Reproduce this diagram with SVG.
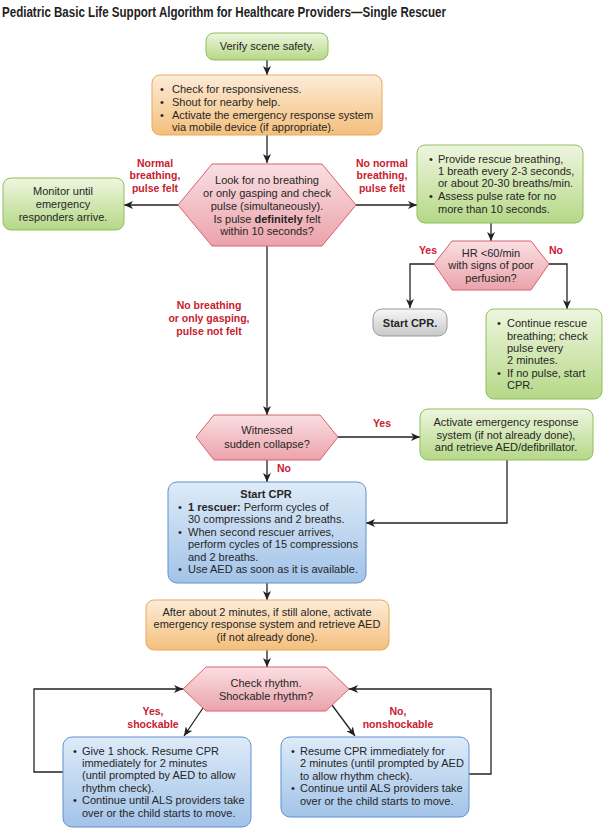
<svg xmlns="http://www.w3.org/2000/svg" width="604" height="830" viewBox="0 0 604 830">
<defs>
<linearGradient id="gGreen" x1="0" y1="0" x2="0" y2="1"><stop offset="0" stop-color="#eef6df"/><stop offset="1" stop-color="#b5d887"/></linearGradient>
<linearGradient id="gOrange" x1="0" y1="0" x2="0" y2="1"><stop offset="0" stop-color="#fdecd8"/><stop offset="1" stop-color="#f4bf7c"/></linearGradient>
<linearGradient id="gPink" x1="0" y1="0" x2="0" y2="1"><stop offset="0" stop-color="#f9dfe2"/><stop offset="1" stop-color="#eba3ab"/></linearGradient>
<linearGradient id="gBlue" x1="0" y1="0" x2="0" y2="1"><stop offset="0" stop-color="#deebf8"/><stop offset="1" stop-color="#a2c3e8"/></linearGradient>
<linearGradient id="gGrey" x1="0" y1="0" x2="0" y2="1"><stop offset="0" stop-color="#f6f6f6"/><stop offset="1" stop-color="#c8c8c8"/></linearGradient>
<marker id="arr" markerUnits="userSpaceOnUse" markerWidth="10" markerHeight="8" refX="9" refY="4" orient="auto"><path d="M0,0 L9,4 L0,8 L2.5,4 Z" fill="#222"/></marker>
</defs>
<style>
text{font-family:"Liberation Sans",Arial,sans-serif;font-size:11px;fill:#262626}
.t{font-size:14px;font-weight:bold;fill:#222}
.c{text-anchor:middle}
.b{font-weight:bold}
.r{font-weight:bold;fill:#c8202f;text-anchor:middle;font-size:10.5px}
.green{fill:url(#gGreen);stroke:#8fbf5c;stroke-width:1}
.orange{fill:url(#gOrange);stroke:#eaa95a;stroke-width:1}
.pink{fill:url(#gPink);stroke:#d8606c;stroke-width:1}
.blue{fill:url(#gBlue);stroke:#5e91d0;stroke-width:1}
.grey{fill:url(#gGrey);stroke:#9a9a9a;stroke-width:1}
.con path{fill:none;stroke:#222;stroke-width:1.3}
.con path.a{marker-end:url(#arr)}
</style>
<rect width="604" height="830" fill="#ffffff"/>
<text class="t" x="2" y="17" textLength="444" lengthAdjust="spacingAndGlyphs">Pediatric Basic Life Support Algorithm for Healthcare Providers—Single Rescuer</text>

<g id="connectors" class="con">
<path class="a" d="M267,60 V75"/>
<path class="a" d="M267,135 V163"/>
<path class="a" d="M178,205 H124"/>
<path class="a" d="M356,205 H417"/>
<path class="a" d="M491,223 V241"/>
<path class="a" d="M434,264 H410 V308"/>
<path class="a" d="M549,264 H567 V309"/>
<path class="a" d="M267,246 V415"/>
<path class="a" d="M338,437 H420"/>
<path class="a" d="M507,460 V523 H366"/>
<path class="a" d="M267,460 V482"/>
<path class="a" d="M267,583 V600"/>
<path class="a" d="M267,650 V667"/>
<path class="a" d="M203,708 L184,736"/>
<path class="a" d="M332,705 L355,736"/>
<path class="a" d="M63,772 H34 V689 H183"/>
<path class="a" d="M469,774 H491 V689 H349"/>
</g>

<g id="verify">
<rect class="green" x="206" y="33" width="122" height="27" rx="8"/>
<text class="c" x="267" y="50">Verify scene safety.</text>
</g>

<g id="check-responsiveness">
<rect class="orange" x="152" y="75" width="230" height="60" rx="8"/>
<text x="160" y="93">•</text><text x="172" y="93">Check for responsiveness.</text>
<text x="160" y="106">•</text><text x="172" y="106">Shout for nearby help.</text>
<text x="160" y="119">•</text><text x="172" y="119">Activate the emergency response system</text>
<text x="172" y="131">via mobile device (if appropriate).</text>
</g>

<g id="look-breathing">
<polygon class="pink" points="178,205 212,164 322,164 356,205 322,246 212,246"/>
<text class="c" x="267" y="184">Look for no breathing</text>
<text class="c" x="267" y="197">or only gasping and check</text>
<text class="c" x="267" y="210">pulse (simultaneously).</text>
<text class="c" x="267" y="223">Is pulse <tspan class="b">definitely</tspan> felt</text>
<text class="c" x="267" y="235">within 10 seconds?</text>
</g>

<g id="monitor">
<rect class="green" x="3" y="178" width="121" height="52" rx="8"/>
<text class="c" x="63" y="195">Monitor until</text>
<text class="c" x="63" y="208">emergency</text>
<text class="c" x="63" y="221">responders arrive.</text>
</g>

<g id="label-normal">
<text class="r" x="155" y="167">Normal</text>
<text class="r" x="155" y="179">breathing,</text>
<text class="r" x="155" y="192">pulse felt</text>
</g>

<g id="label-no-normal">
<text class="r" x="382" y="167">No normal</text>
<text class="r" x="382" y="179">breathing,</text>
<text class="r" x="382" y="192">pulse felt</text>
</g>

<g id="rescue-breathing">
<rect class="green" x="417" y="145" width="166" height="78" rx="8"/>
<text x="429" y="163">•</text><text x="438" y="163">Provide rescue breathing,</text>
<text x="438" y="175">1 breath every 2-3 seconds,</text>
<text x="438" y="187">or about 20-30 breaths/min.</text>
<text x="429" y="200">•</text><text x="438" y="200">Assess pulse rate for no</text>
<text x="438" y="213">more than 10 seconds.</text>
</g>

<g id="hr-decision">
<polygon class="pink" points="434,264 452,241 531,241 549,264 531,290 452,290"/>
<text class="c" x="491" y="257">HR &lt;60/min</text>
<text class="c" x="491" y="269">with signs of poor</text>
<text class="c" x="491" y="282">perfusion?</text>
<text class="r" x="428" y="254">Yes</text>
<text class="r" x="556" y="254">No</text>
</g>

<g id="start-cpr-small">
<rect class="grey" x="373" y="309" width="74" height="27" rx="9"/>
<text class="c b" x="410" y="327">Start CPR.</text>
</g>

<g id="continue-rescue">
<rect class="green" x="486" y="309" width="116" height="90" rx="8"/>
<text x="497" y="327">•</text><text x="507" y="327">Continue rescue</text>
<text x="507" y="340">breathing; check</text>
<text x="507" y="352">pulse every</text>
<text x="507" y="364">2 minutes.</text>
<text x="497" y="377">•</text><text x="507" y="377">If no pulse, start</text>
<text x="507" y="389">CPR.</text>
</g>

<g id="label-no-breathing">
<text class="r" x="209" y="309">No breathing</text>
<text class="r" x="209" y="322">or only gasping,</text>
<text class="r" x="209" y="335">pulse not felt</text>
</g>

<g id="witnessed">
<polygon class="pink" points="196,437 214,415 320,415 338,437 320,460 214,460"/>
<text class="c" x="267" y="434">Witnessed</text>
<text class="c" x="267" y="448">sudden collapse?</text>
<text class="r" x="382" y="427">Yes</text>
<text class="r" x="284" y="472">No</text>
</g>

<g id="activate-ems">
<rect class="green" x="420" y="409" width="173" height="51" rx="8"/>
<text class="c" x="506" y="426">Activate emergency response</text>
<text class="c" x="506" y="439">system (if not already done),</text>
<text class="c" x="506" y="451">and retrieve AED/defibrillator.</text>
</g>

<g id="start-cpr">
<rect class="blue" x="168" y="482" width="198" height="101" rx="9"/>
<text class="c b" x="266" y="498">Start CPR</text>
<text x="178" y="511">•</text><text x="188" y="511"><tspan class="b">1 rescuer:</tspan> Perform cycles of</text>
<text x="188" y="523">30 compressions and 2 breaths.</text>
<text x="178" y="536">•</text><text x="188" y="536">When second rescuer arrives,</text>
<text x="188" y="548">perform cycles of 15 compressions</text>
<text x="188" y="561">and 2 breaths.</text>
<text x="178" y="573">•</text><text x="188" y="573">Use AED as soon as it is available.</text>
</g>

<g id="after-2-min">
<rect class="orange" x="146" y="600" width="243" height="50" rx="8"/>
<text class="c" x="267" y="616">After about 2 minutes, if still alone, activate</text>
<text class="c" x="267" y="628">emergency response system and retrieve AED</text>
<text class="c" x="267" y="641">(if not already done).</text>
</g>

<g id="check-rhythm">
<polygon class="pink" points="183,689 206,667 326,667 349,689 326,711 206,711"/>
<text class="c" x="266" y="687">Check rhythm.</text>
<text class="c" x="266" y="700">Shockable rhythm?</text>
</g>

<g id="label-shockable">
<text class="r" x="153" y="715">Yes,</text>
<text class="r" x="153" y="728">shockable</text>
</g>

<g id="label-nonshockable">
<text class="r" x="398" y="715">No,</text>
<text class="r" x="398" y="728">nonshockable</text>
</g>

<g id="shock">
<rect class="blue" x="63" y="737" width="188" height="90" rx="9"/>
<text x="73" y="755">•</text><text x="82" y="755">Give 1 shock. Resume CPR</text>
<text x="82" y="767">immediately for 2 minutes</text>
<text x="82" y="779">(until prompted by AED to allow</text>
<text x="82" y="792">rhythm check).</text>
<text x="73" y="804">•</text><text x="82" y="804">Continue until ALS providers take</text>
<text x="82" y="817">over or the child starts to move.</text>
</g>

<g id="no-shock">
<rect class="blue" x="281" y="737" width="188" height="80" rx="9"/>
<text x="291" y="755">•</text><text x="300" y="755">Resume CPR immediately for</text>
<text x="300" y="767">2 minutes (until prompted by AED</text>
<text x="300" y="780">to allow rhythm check).</text>
<text x="291" y="792">•</text><text x="300" y="792">Continue until ALS providers take</text>
<text x="300" y="805">over or the child starts to move.</text>
</g>
</svg>
